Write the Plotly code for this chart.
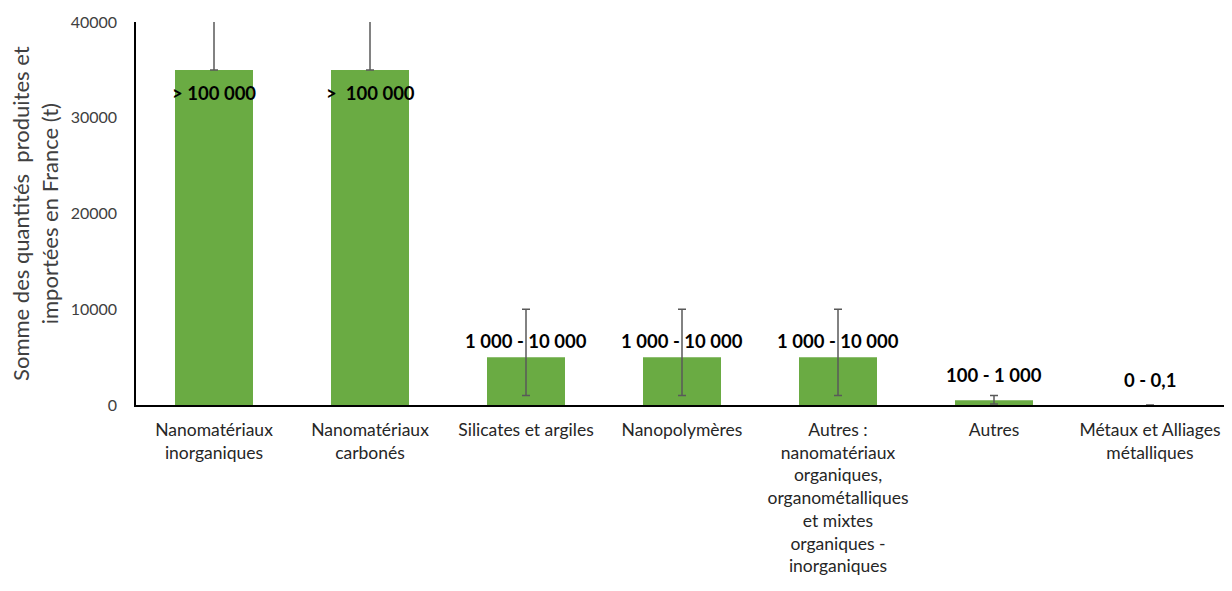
import plotly.graph_objects as go

categories = [
    "Nanomatériaux<br>inorganiques",
    "Nanomatériaux<br>carbonés",
    "Silicates et argiles",
    "Nanopolymères",
    "Autres :<br>nanomatériaux<br>organiques,<br>organométalliques<br>et mixtes<br>organiques -<br>inorganiques",
    "Autres",
    "Métaux et Alliages<br>métalliques",
]
values = [35000, 35000, 5000, 5000, 5000, 500, 0.05]
err_plus = [65000, 65000, 5000, 5000, 5000, 500, 0.05]
err_minus = [0, 0, 4000, 4000, 4000, 400, 0.05]
bar_labels = ["> 100 000", ">  100 000", "1 000 - 10 000", "1 000 - 10 000",
              "1 000 - 10 000", "100 - 1 000", "0 - 0,1"]
label_inside = [True, True, False, False, False, False, False]
y_ticks = [0, 10000, 20000, 30000, 40000]
y_title = "Somme des quantités  produites et<br>importées en France (t)"

FONT = "Lato, Calibri, Carlito, sans-serif"

fig = go.Figure()
fig.add_trace(go.Bar(
    x=categories, y=values, width=0.5,
    marker=dict(color="#6aab43", line=dict(width=0)),
    error_y=dict(type="data", symmetric=False, array=err_plus, arrayminus=err_minus,
                 color="#595959", thickness=1.5, width=4),
    hoverinfo="skip",
))

for cat, v, lab, inside in zip(categories, values, bar_labels, label_inside):
    fig.add_annotation(
        x=cat, y=v, text=f"<b>{lab}</b>", showarrow=False,
        yshift=-23 if inside else (16 if v > 1000 else 25),
        font=dict(family=FONT, size=18.5, color="#000000"),
    )

# y-axis title as a rotated annotation
fig.add_annotation(
    xref="paper", yref="paper", x=-0.093, y=0.5, xanchor="center", yanchor="middle",
    text=y_title, textangle=-90, showarrow=False,
    font=dict(family=FONT, size=22, color="#404040"),
)

fig.update_layout(
    width=1232, height=591,
    margin=dict(l=128, r=12, t=14, b=194, pad=0),
    plot_bgcolor="white", paper_bgcolor="white",
    showlegend=False, bargap=0.5,
    font=dict(family=FONT, color="#404040"),
)
fig.update_yaxes(
    range=[0, 40000], tickvals=y_ticks, tickformat="d",
    showgrid=False, zeroline=False, automargin=False,
    showline=True, linecolor="#000000", linewidth=1.5,
    ticks="", ticklabelstandoff=14,
    tickfont=dict(family=FONT, size=16, color="#404040"),
)
fig.update_xaxes(
    showgrid=False, showline=True, linecolor="#000000", linewidth=1.5,
    ticks="", tickangle=0, automargin=False, ticklabelstandoff=8,
    tickfont=dict(family=FONT, size=17.5, color="#262626"),
)

fig.write_html("out.html")
